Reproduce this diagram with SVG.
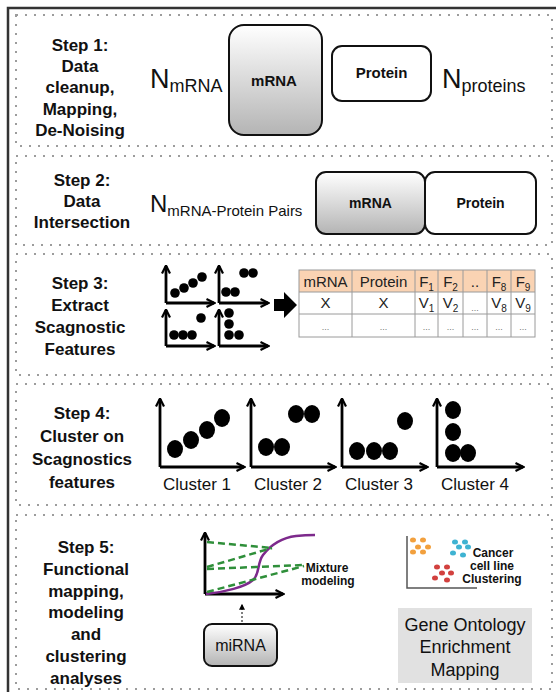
<svg xmlns="http://www.w3.org/2000/svg" width="556" height="692" viewBox="0 0 556 692">
<defs>
<linearGradient id="gg" x1="0" y1="0" x2="0" y2="1">
<stop offset="0" stop-color="#ffffff"/>
<stop offset="1" stop-color="#b4b4b4"/>
</linearGradient>
<marker id="ah" viewBox="0 0 10 10" refX="8.5" refY="5" markerWidth="10" markerHeight="10" markerUnits="userSpaceOnUse" orient="auto">
<path d="M1,1 L9,5 L1,9" fill="none" stroke="#000" stroke-width="2.2"/>
</marker>
<marker id="ahs" viewBox="0 0 10 10" refX="8" refY="5" markerWidth="6" markerHeight="6" markerUnits="userSpaceOnUse" orient="auto">
<path d="M0,0 L10,5 L0,10 z" fill="#000"/>
</marker>
<style>
.panel{fill:none;stroke:#9c9c9c;stroke-width:2;stroke-dasharray:2 7}
.step{font-family:"Liberation Sans",Arial,sans-serif;font-weight:bold;font-size:17px;fill:#111;text-anchor:middle}
.lbl{font-family:"Liberation Sans",Arial,sans-serif;fill:#111}
.b{font-weight:bold}
.box{stroke:#111;stroke-width:2}
.axis{stroke:#000;stroke-width:2.8;fill:none;marker-end:url(#ah)}
.tc{font-family:"Liberation Sans",Arial,sans-serif;font-size:15px;fill:#222;text-anchor:middle}
.dots{font-family:"Liberation Sans",Arial,sans-serif;font-size:9px;fill:#777;text-anchor:middle}
.grid{stroke:#9a9a9a;stroke-width:1}
.green{stroke:#2f8f3a;stroke-width:2.5;fill:none;stroke-dasharray:7 4}
</style>
</defs>
<rect width="556" height="692" fill="#fff"/>
<path d="M8,692 L8,8 L556,8" fill="none" stroke="#333" stroke-width="2.5"/>

<g id="panel1">
<rect class="panel" x="16" y="15" width="536" height="131"/>
<text class="step" x="80" y="51">Step 1:</text>
<text class="step" x="80" y="72">Data</text>
<text class="step" x="80" y="93">cleanup,</text>
<text class="step" x="80" y="115">Mapping,</text>
<text class="step" x="80" y="136">De-Noising</text>
<text class="lbl" x="150" y="88" font-size="27">N<tspan font-size="18" dy="4">mRNA</tspan></text>
<g id="mrna1"><rect class="box" x="229" y="25" width="93" height="110" rx="15" fill="url(#gg)"/>
<text class="lbl b" x="274" y="86" font-size="15" text-anchor="middle">mRNA</text></g>
<g id="protein1"><rect class="box" x="332" y="46" width="99" height="55" rx="10" fill="#fff"/>
<text class="lbl b" x="381.5" y="78" font-size="15" text-anchor="middle">Protein</text></g>
<text class="lbl" x="442" y="88" font-size="27">N<tspan font-size="18" dy="4">proteins</tspan></text>
</g>

<g id="panel2">
<rect class="panel" x="16" y="156" width="536" height="89"/>
<text class="step" x="82" y="186">Step 2:</text>
<text class="step" x="82" y="207">Data</text>
<text class="step" x="82" y="228">Intersection</text>
<text class="lbl" x="150" y="212" font-size="24">N<tspan font-size="15" dy="4">mRNA-Protein Pairs</tspan></text>
<g id="mrna2"><rect class="box" x="316" y="172" width="109" height="62" rx="10" fill="url(#gg)"/>
<text class="lbl b" x="370.5" y="208" font-size="14" text-anchor="middle">mRNA</text></g>
<g id="protein2"><rect class="box" x="425" y="172" width="111" height="62" rx="10" fill="#fff"/>
<text class="lbl b" x="480.5" y="208" font-size="14" text-anchor="middle">Protein</text></g>
</g>

<g id="panel3">
<rect class="panel" x="16" y="254" width="536" height="121"/>
<text class="step" x="80" y="289">Step 3:</text>
<text class="step" x="80" y="311">Extract</text>
<text class="step" x="80" y="333">Scagnostic</text>
<text class="step" x="80" y="355">Features</text>
<g id="scatter-icons">
<line class="axis" x1="166" y1="303" x2="166" y2="266"/>
<line class="axis" x1="166" y1="303" x2="214" y2="303"/>
<circle cx="175" cy="293" r="4.8"/><circle cx="184" cy="288" r="4.8"/><circle cx="193" cy="283" r="4.8"/><circle cx="202" cy="277" r="4.8"/>
<line class="axis" x1="219" y1="303" x2="219" y2="266"/>
<line class="axis" x1="219" y1="303" x2="268" y2="303"/>
<circle cx="226" cy="292" r="4.8"/><circle cx="235" cy="292" r="4.8"/><circle cx="244" cy="273" r="4.8"/><circle cx="253" cy="273" r="4.8"/>
<line class="axis" x1="166" y1="346" x2="166" y2="310"/>
<line class="axis" x1="166" y1="346" x2="214" y2="346"/>
<circle cx="174" cy="335" r="4.8"/><circle cx="183" cy="335" r="4.8"/><circle cx="192" cy="335" r="4.8"/><circle cx="201" cy="318" r="4.8"/>
<line class="axis" x1="219" y1="346" x2="219" y2="310"/>
<line class="axis" x1="219" y1="346" x2="268" y2="346"/>
<circle cx="229" cy="313" r="4.8"/><circle cx="229" cy="324" r="4.8"/><circle cx="229" cy="335" r="4.8"/><circle cx="239" cy="335" r="4.8"/>
</g>
<g id="feature-table">
<rect x="299" y="270" width="236" height="22" fill="#fad3b3"/>
<rect x="299" y="270" width="236" height="67" fill="none" class="grid"/>
<line class="grid" x1="299" y1="292" x2="535" y2="292"/>
<line class="grid" x1="299" y1="314" x2="535" y2="314"/>
<line class="grid" x1="352" y1="270" x2="352" y2="337"/>
<line class="grid" x1="415" y1="270" x2="415" y2="337"/>
<line class="grid" x1="438" y1="270" x2="438" y2="337"/>
<line class="grid" x1="463" y1="270" x2="463" y2="337"/>
<line class="grid" x1="487" y1="270" x2="487" y2="337"/>
<line class="grid" x1="511" y1="270" x2="511" y2="337"/>
<text class="tc" x="325.5" y="287">mRNA</text>
<text class="tc" x="383.5" y="287">Protein</text>
<text class="tc" x="426.5" y="287">F<tspan font-size="10" dy="4">1</tspan></text>
<text class="tc" x="450.5" y="287">F<tspan font-size="10" dy="4">2</tspan></text>
<text class="tc" x="475" y="287">..</text>
<text class="tc" x="499" y="287">F<tspan font-size="10" dy="4">8</tspan></text>
<text class="tc" x="523" y="287">F<tspan font-size="10" dy="4">9</tspan></text>
<text class="tc" x="325.5" y="308">X</text>
<text class="tc" x="383.5" y="308">X</text>
<text class="tc" x="426.5" y="308">V<tspan font-size="10" dy="4">1</tspan></text>
<text class="tc" x="450.5" y="308">V<tspan font-size="10" dy="4">2</tspan></text>
<text class="dots" x="475" y="311">...</text>
<text class="tc" x="499" y="308">V<tspan font-size="10" dy="4">8</tspan></text>
<text class="tc" x="523" y="308">V<tspan font-size="10" dy="4">9</tspan></text>
<text class="dots" x="325.5" y="330">...</text>
<text class="dots" x="383.5" y="330">...</text>
<text class="dots" x="426.5" y="330">...</text>
<text class="dots" x="450.5" y="330">...</text>
<text class="dots" x="475" y="330">...</text>
<text class="dots" x="499" y="330">...</text>
<text class="dots" x="523" y="330">...</text>
</g>
</g>

<g id="panel4">
<rect class="panel" x="16" y="384" width="536" height="121"/>
<text class="step" x="82" y="419">Step 4:</text>
<text class="step" x="82" y="442">Cluster on</text>
<text class="step" x="82" y="465">Scagnostics</text>
<text class="step" x="82" y="488">features</text>
<g id="cluster1">
<line class="axis" x1="160" y1="467" x2="160" y2="399"/>
<line class="axis" x1="160" y1="467" x2="244" y2="467"/>
<ellipse cx="175" cy="449" rx="8" ry="9"/><ellipse cx="191" cy="440" rx="8" ry="9"/><ellipse cx="207" cy="430" rx="8" ry="9"/><ellipse cx="222" cy="418" rx="8" ry="9"/>
<text class="lbl" x="197" y="490" font-size="17" text-anchor="middle">Cluster 1</text>
</g>
<g id="cluster2">
<line class="axis" x1="251" y1="467" x2="251" y2="399"/>
<line class="axis" x1="251" y1="467" x2="335" y2="467"/>
<ellipse cx="266" cy="447" rx="8" ry="9"/><ellipse cx="282" cy="447" rx="8" ry="9"/><ellipse cx="296" cy="414" rx="8" ry="9"/><ellipse cx="312" cy="414" rx="8" ry="9"/>
<text class="lbl" x="288" y="490" font-size="17" text-anchor="middle">Cluster 2</text>
</g>
<g id="cluster3">
<line class="axis" x1="342" y1="467" x2="342" y2="399"/>
<line class="axis" x1="342" y1="467" x2="427" y2="467"/>
<ellipse cx="357" cy="451" rx="8" ry="9"/><ellipse cx="374" cy="451" rx="8" ry="9"/><ellipse cx="390" cy="451" rx="8" ry="9"/><ellipse cx="405" cy="421" rx="8" ry="9"/>
<text class="lbl" x="379" y="490" font-size="17" text-anchor="middle">Cluster 3</text>
</g>
<g id="cluster4">
<line class="axis" x1="437" y1="467" x2="437" y2="399"/>
<line class="axis" x1="437" y1="467" x2="523" y2="467"/>
<ellipse cx="453" cy="410" rx="8" ry="9"/><ellipse cx="453" cy="432" rx="8" ry="9"/><ellipse cx="453" cy="453" rx="8" ry="9"/><ellipse cx="468" cy="453" rx="8" ry="9"/>
<text class="lbl" x="475" y="490" font-size="17" text-anchor="middle">Cluster 4</text>
</g>
</g>

<g id="panel5">
<rect class="panel" x="16" y="515" width="536" height="174"/>
<text class="step" x="86" y="553">Step 5:</text>
<text class="step" x="86" y="575">Functional</text>
<text class="step" x="86" y="597">mapping,</text>
<text class="step" x="86" y="618">modeling</text>
<text class="step" x="86" y="640">and</text>
<text class="step" x="86" y="662">clustering</text>
<text class="step" x="86" y="684">analyses</text>
<g id="mixture-plot">
<line class="axis" x1="205" y1="594" x2="205" y2="533"/>
<line class="axis" x1="205" y1="594" x2="283" y2="594"/>
<path d="M206,594 C225,592 245,587 253,580 C260,574 257,563 263,555 C270,546 280,538 296,536 C305,535 310,535 315,535" fill="none" stroke="#7d2a8c" stroke-width="2.5"/>
<line class="green" x1="207" y1="542" x2="272" y2="548"/>
<line class="green" x1="207" y1="567" x2="272" y2="548"/>
<line class="green" x1="207" y1="569" x2="304" y2="565"/>
<line class="green" x1="207" y1="592" x2="304" y2="566"/>
<text class="lbl b" x="327" y="572" font-size="12" text-anchor="middle">Mixture</text>
<text class="lbl b" x="328" y="585" font-size="12" text-anchor="middle">modeling</text>
</g>
<g id="mirna"><rect class="box" x="204" y="624" width="73" height="42" rx="8" fill="url(#gg)"/>
<text class="lbl" x="240.5" y="651" font-size="16" text-anchor="middle">miRNA</text></g>
<g id="cancer-plot">
<path d="M407,536 L407,588 L477,588" fill="none" stroke="#555" stroke-width="1.5"/>
<g fill="#f2a03d"><ellipse cx="413" cy="540" rx="3" ry="2.5"/><ellipse cx="423" cy="540" rx="3" ry="2.5"/><ellipse cx="418" cy="547" rx="3" ry="2.5"/><ellipse cx="428" cy="547" rx="3" ry="2.5"/><ellipse cx="413" cy="552" rx="3" ry="2.5"/><ellipse cx="423" cy="552" rx="3" ry="2.5"/></g>
<g fill="#3fb3d2"><ellipse cx="455" cy="542" rx="3" ry="2.5"/><ellipse cx="465" cy="542" rx="3" ry="2.5"/><ellipse cx="459" cy="547" rx="3" ry="2.5"/><ellipse cx="468" cy="547" rx="3" ry="2.5"/><ellipse cx="453" cy="553" rx="3" ry="2.5"/><ellipse cx="463" cy="555" rx="3" ry="2.5"/></g>
<g fill="#d2413f"><ellipse cx="437" cy="567" rx="3" ry="2.5"/><ellipse cx="447" cy="567" rx="3" ry="2.5"/><ellipse cx="442" cy="573" rx="3" ry="2.5"/><ellipse cx="451" cy="573" rx="3" ry="2.5"/><ellipse cx="435" cy="578" rx="3" ry="2.5"/><ellipse cx="447" cy="580" rx="3" ry="2.5"/></g>
<text class="lbl b" x="493" y="557" font-size="12" text-anchor="middle">Cancer</text>
<text class="lbl b" x="492" y="570" font-size="12" text-anchor="middle">cell line</text>
<text class="lbl b" x="492" y="583" font-size="12" text-anchor="middle">Clustering</text>
</g>
<g id="go-box"><rect x="398" y="608" width="134" height="75" fill="#e1e1e1"/>
<text class="lbl" x="465" y="631" font-size="18" text-anchor="middle">Gene Ontology</text>
<text class="lbl" x="465" y="653" font-size="18" text-anchor="middle">Enrichment</text>
<text class="lbl" x="465" y="676" font-size="18" text-anchor="middle">Mapping</text></g>
</g>

<g id="connectors">
<path d="M274,299 L284,299 L284,292 L297,305 L284,318 L284,311 L274,311 z" fill="#000"/>
<line x1="242" y1="622" x2="242" y2="605" stroke="#000" stroke-width="1" stroke-dasharray="2 2" marker-end="url(#ahs)"/>
</g>
</svg>
